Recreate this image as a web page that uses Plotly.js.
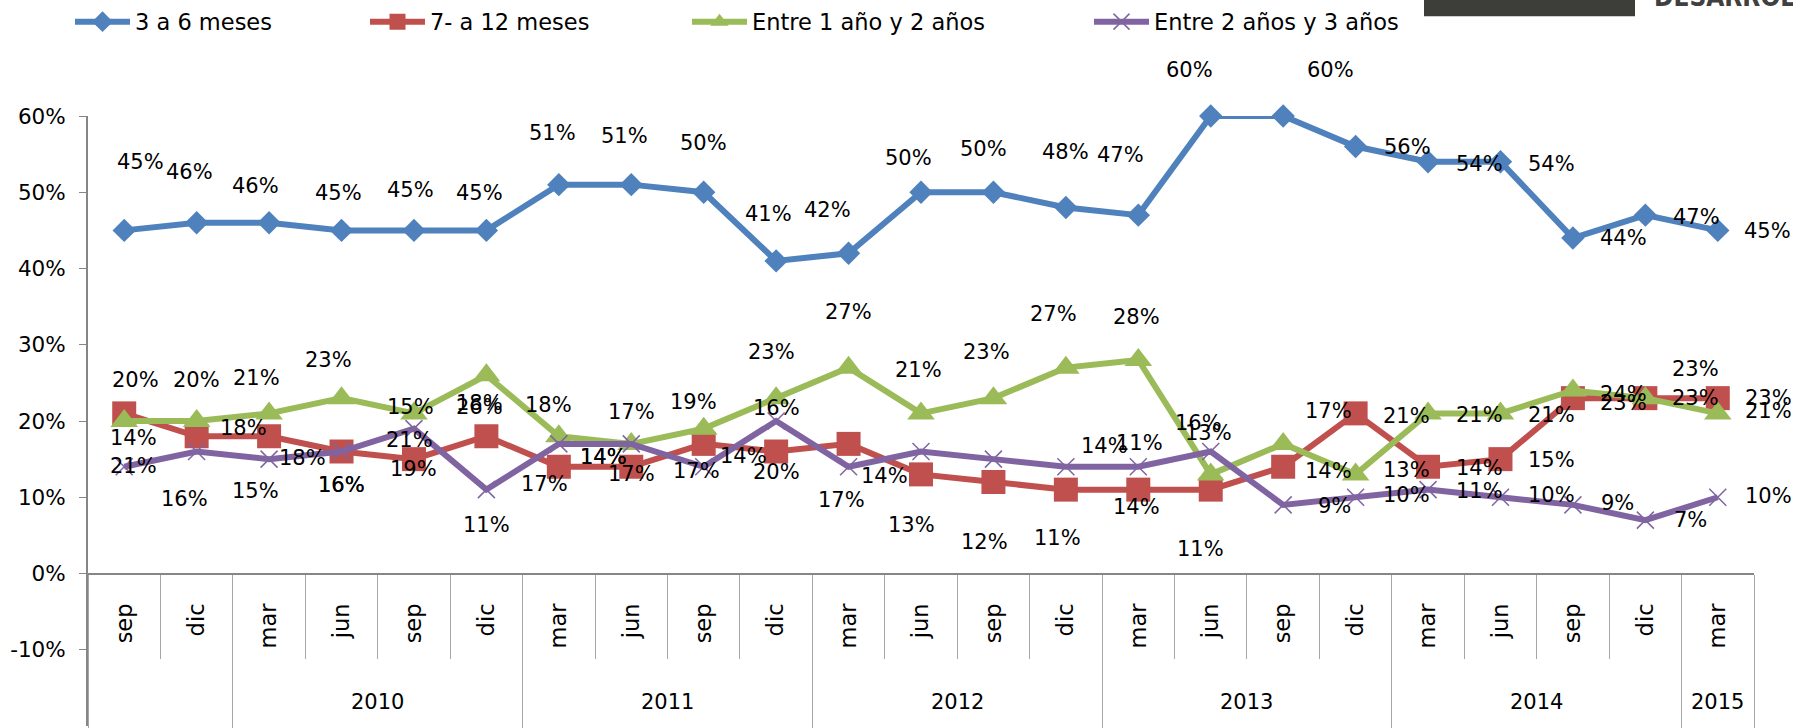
<!DOCTYPE html>
<html><head><meta charset="utf-8">
<script src="https://cdn.plot.ly/plotly-3.0.1.min.js"></script>
<style>html,body{margin:0;padding:0;background:#fff}</style>
</head><body><div id="chart" style="width:1793px;height:728px"></div>
<script>
// ---- data ----
const months = ['sep','dic','mar','jun','sep','dic','mar','jun','sep','dic','mar','jun','sep','dic','mar','jun','sep','dic','mar','jun','sep','dic','mar'];
const years  = ['','','2010','2010','2010','2010','2011','2011','2011','2011','2012','2012','2012','2012','2013','2013','2013','2013','2014','2014','2014','2014','2015'];
const seriesNames = ['3 a 6 meses','7- a 12 meses','Entre 1 año y 2 años','Entre 2 años y 3 años'];
const meses3a6   = [45,46,46,45,45,45,51,51,50,41,42,50,50,48,47,60,60,56,54,54,44,47,45];
const meses7a12  = [21,18,18,16,15,18,14,14,17,16,17,13,12,11,11,11,14,21,14,15,23,23,23];
const anos1a2    = [20,20,21,23,21,26,18,17,19,23,27,21,23,27,28,13,17,13,21,21,24,23,21];
const anos2a3    = [14,16,15,16,19,11,17,17,14,20,14,16,15,14,14,16,9,10,11,10,9,7,10];
const yTicks     = [-10,0,10,20,30,40,50,60];

// ---- label placement (pixel offsets from each point, dx right, dy down; null = no label) ----
const offBlue = [[16,-68],[-7,-51],[-14,-37],[-3,-37],[-3,-40],[-7,-37],[-6,-52],[-7,-49],[0,-49],[-8,-47],[-21,-43],[-13,-34],[-10,-43],[0,-56],[-18,-60],[-21,-46],[47,-46],[52,0],[51,2],[51,2],[51,0],[51,2],[50,1]];
const offRed = [[9,53],[47,-8],[33,22],[0,33],[-3,-52],[-7,-33],[45,-10],[-28,-10],[-7,27],[0,-44],[-7,56],[-10,51],[-9,60],[-8,48],[1,-47],[-10,59],[45,4],[51,3],[51,1],[51,1],[51,5],[50,0],[51,0]];
const offGreen = [[11,-41],[0,-41],[-13,-35],[-13,-38],[-4,27],[-7,32],[-10,-31],[0,-32],[-10,-27],[-5,-46],[0,-56],[-3,-43],[-7,-46],[-12,-54],[-2,-43],[-2,-41],[45,-33],[51,-4],[51,2],[51,2],[51,3],[50,-29],[51,-2]];
const offPurple = [[9,-29],[-12,47],[-14,32],[0,33],[0,40],[0,35],[-14,40],[0,30],[40,-11],[0,51],[36,9],null,null,[39,-21],[-2,40],[-12,-29],[51,1],[51,-2],[51,1],[51,-2],[45,-2],[45,0],[51,-1]];

// ---- geometry ----
const W=1793, H=728, L=88, R=39, T=115, B=2;
const PW=W-L-R, PH=H-T-B;
const px2x = p => (p-L)/PW;
const py2y = p => (H-B-p)/PH;
const FONT = 'DejaVu Sans, Verdana, sans-serif';

const idx = months.map((m,i)=>i);
const colors = ['#4F81BD','#C0504D','#9BBB59','#8064A2'];
const values = [meses3a6, meses7a12, anos1a2, anos2a3];
const offsets = [offBlue, offRed, offGreen, offPurple];
const markers = [
  {symbol:'diamond', size:18, color:colors[0]},
  {symbol:'square', size:24, color:colors[1]},
  {symbol:'triangle-up', size:24, color:colors[2]},
  {symbol:'x-thin-open', size:17, color:colors[3], line:{width:1.5, color:colors[3]}}
];
const legendNames = ['legend','legend2','legend3','legend4'];

const traces = values.map((v,k)=>({
  type:'scatter', mode:'lines+markers', name:seriesNames[k],
  x: idx, y: v.map(d=>d/100),
  line:{color:colors[k], width:6},
  marker: markers[k],
  cliponaxis:false, legend: legendNames[k], hoverinfo:'skip'
}));
// helper empty traces so the separator axes are drawn
traces.push({type:'scatter', x:[], y:[], xaxis:'x2', showlegend:false, hoverinfo:'skip'});
traces.push({type:'scatter', x:[], y:[], xaxis:'x3', showlegend:false, hoverinfo:'skip'});

// data labels
const annotations = [];
values.forEach((v,k)=>{
  v.forEach((d,i)=>{
    const o = offsets[k][i];
    if(!o) return;
    annotations.push({x:i, y:d/100, xref:'x', yref:'y', text:d+'%', showarrow:false,
      xshift:o[0], yshift:-o[1], font:{family:FONT, size:21, color:'#000'}});
  });
});

// year groups
const groups = [];
years.forEach((y,i)=>{
  if(i===0 || y!==years[i-1]) groups.push({year:y, start:i, end:i});
  else groups[groups.length-1].end = i;
});
groups.forEach(g=>{
  if(!g.year) return;
  annotations.push({x:(g.start+g.end)/2, xref:'x', y:py2y(702), yref:'paper', text:g.year,
    showarrow:false, yanchor:'middle', font:{family:FONT, size:21, color:'#000'}});
});
const groupBounds = [-0.5].concat(groups.map(g=>g.end+0.5));
const catBounds = idx.map(i=>i-0.5).concat([months.length-0.5]);

// logo fragment at the top right
annotations.push({x:px2x(1652), xref:'paper', xanchor:'left', y:py2y(13), yref:'paper', yanchor:'bottom',
  text:'<b>DESARROLLO</b>', showarrow:false, font:{family:'DejaVu Sans Condensed, DejaVu Sans', size:26, color:'#404040'}});

const legendBase = {orientation:'h', yanchor:'middle', y:py2y(22), xanchor:'left', bgcolor:'rgba(0,0,0,0)',
  font:{family:FONT, size:22.5, color:'#000'}, itemwidth:55, borderwidth:0};
const legendX = [70, 365, 687, 1089];

const layout = {
  width:W, height:H, margin:{l:L, r:R, t:T, b:B, pad:0},
  paper_bgcolor:'#fff', plot_bgcolor:'#fff',
  font:{family:FONT, size:20, color:'#000'},
  showlegend:true,
  xaxis:{type:'linear', range:[-0.5, months.length-0.5], anchor:'free', position:0.25,
    tickvals:idx, ticktext:months, tickangle:-90, ticks:'', showgrid:false, zeroline:false,
    showline:true, linecolor:'#868686', linewidth:2, ticklabelstandoff:20,
    tickfont:{family:FONT, size:22.5, color:'#000'}},
  xaxis2:{type:'linear', overlaying:'x', range:[-0.5, months.length-0.5], anchor:'free', position:0.25,
    tickvals:catBounds, ticks:'outside', ticklen:84, tickwidth:1, tickcolor:'#a6a6a6',
    showticklabels:false, showgrid:false, zeroline:false, showline:false},
  xaxis3:{type:'linear', overlaying:'x', range:[-0.5, months.length-0.5], anchor:'free', position:0.25,
    tickvals:groupBounds, ticks:'outside', ticklen:160, tickwidth:1, tickcolor:'#a6a6a6',
    showticklabels:false, showgrid:false, zeroline:false, showline:false},
  yaxis:{range:[-0.2,0.6], tickvals:yTicks.map(t=>t/100), ticktext:yTicks.map(t=>t+'%'),
    ticks:'outside', ticklen:7, tickcolor:'#868686', tickwidth:1, showgrid:false, zeroline:false,
    showline:true, linecolor:'#868686', linewidth:2, ticklabelstandoff:9,
    tickfont:{family:FONT, size:21.5, color:'#000'}},
  annotations: annotations,
  shapes:[{type:'rect', xref:'paper', yref:'paper', x0:px2x(1424), x1:px2x(1635), y0:py2y(15), y1:py2y(-2),
    fillcolor:'#3d3d3a', line:{width:0}}]
};
legendNames.forEach((n,k)=>{ layout[n] = Object.assign({}, legendBase, {x:px2x(legendX[k])}); });

Plotly.newPlot('chart', traces, layout, {staticPlot:true});
</script></body></html>
